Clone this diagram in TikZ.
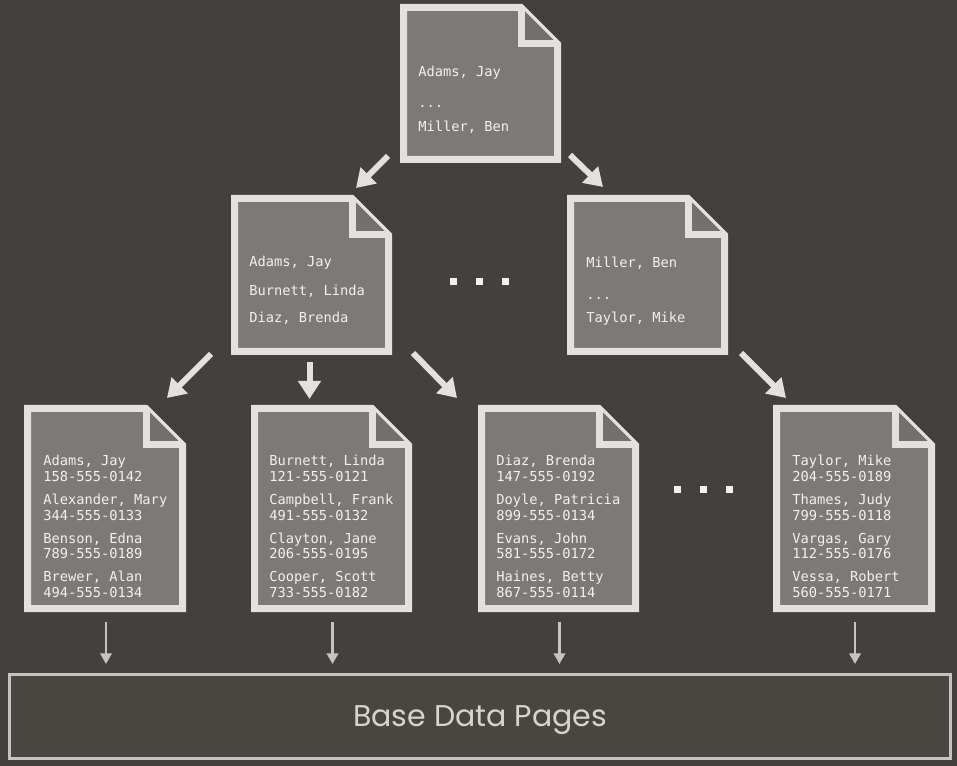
\documentclass[tikz,border=0pt]{standalone}
\usepackage{fontspec}
\setmonofont{DejaVu Sans Mono}
\setsansfont{Poppins}
\usetikzlibrary{arrows.meta,calc,fit}
\definecolor{bgc}{HTML}{43413D}
\definecolor{pagec}{HTML}{7B7A77}
\definecolor{foldc}{HTML}{72716E}
\definecolor{borderc}{HTML}{E2E1DE}
\definecolor{textc}{HTML}{F2F1EE}
\definecolor{boxfillc}{HTML}{48463F}
\definecolor{boxborderc}{HTML}{C5C4C0}
\definecolor{basetextc}{HTML}{D5D4D0}
\tikzset{
  pagebox/.style={inner sep=0pt, outer sep=0pt, draw=none},
  pageline/.style={draw=borderc, fill=pagec, line width=5.25pt, line join=miter},
  foldfill/.style={fill=foldc},
  foldline/.style={draw=borderc, line width=5.25pt, line join=miter},
  entry/.style={anchor=base west, inner sep=0pt, text=textc, font=\ttfamily\fontsize{10.3pt}{12pt}\selectfont},
  bigarrow/.style={draw=borderc, line width=4.5pt, -{Triangle[length=13.5pt,width=16.5pt]}},
  thinarrow/.style={draw=boxborderc, line width=2.2pt, -{Triangle[length=8pt,width=8.5pt]}},
  basebox/.style={draw=boxborderc, fill=boxfillc, line width=2.25pt, minimum width=705.75pt, minimum height=63pt, inner sep=0pt},
  basetext/.style={text=basetextc, font=\sffamily\fontsize{22.5pt}{26pt}\selectfont},
  dotc/.style={fill=textc}
}
\newcommand\docpage[5]{%
  \node[pagebox, fit={(#2,#3) (#4,#5)}] (#1) {};
  \path[pageline] ($(#1.north west)+(3.5,3.5)$) -- ($(#1.north east)+(-40,3.5)$)
     -- ($(#1.north east)+(-3.5,40)$) -- ($(#1.south east)+(-3.5,-3.5)$)
     -- ($(#1.south west)+(3.5,-3.5)$) -- cycle;
  \path[foldfill] ($(#1.north east)+(-40,3.5)$) -- ($(#1.north east)+(-40,40)$)
     -- ($(#1.north east)+(-3.5,40)$) -- cycle;
  \path[foldline] ($(#1.north east)+(-40,3.5)$) -- ($(#1.north east)+(-40,40)$)
     -- ($(#1.north east)+(-3.5,40)$);
}
\newcommand\dotrow[2]{%
  \foreach \dx in {-26,0,26} \fill[dotc] ($(#1+\dx-3.5,#2-3.5)$) rectangle ($(#1+\dx+3.5,#2+3.5)$);
}
\begin{document}
\begin{tikzpicture}[x=0.75pt,y=-0.75pt]
\fill[bgc] (0,0) rectangle (957,766);
\useasboundingbox (0,0) rectangle (957,766);

% pages
\docpage{top}{400}{4}{561}{163}
\docpage{midl}{231}{195}{392}{355}
\docpage{midr}{567}{195}{728}{355}
\docpage{leafa}{24}{405}{186}{612}
\docpage{leafb}{251}{405}{412}{612}
\docpage{leafc}{478}{405}{639}{612}
\docpage{leafd}{773}{405}{935}{612}

% texts
\foreach \ty/\tx [count=\i] in {77/{Adams, Jay},108/{...},132/{Miller, Ben}}
  \node[entry] (top-t\i) at (418,\ty) {\tx};
\foreach \ty/\tx [count=\i] in {267/{Adams, Jay},296/{Burnett, Linda},323/{Diaz, Brenda}}
  \node[entry] (midl-t\i) at (249,\ty) {\tx};
\foreach \ty/\tx [count=\i] in {268/{Miller, Ben},300/{...},323/{Taylor, Mike}}
  \node[entry] (midr-t\i) at (586,\ty) {\tx};
\foreach \ty/\tx [count=\i] in {466/{Adams, Jay},482/{158-555-0142},504/{Alexander, Mary},520/{344-555-0133},543/{Benson, Edna},558/{789-555-0189},581/{Brewer, Alan},597/{494-555-0134}}
  \node[entry] (leafa-t\i) at (43,\ty) {\tx};
\foreach \ty/\tx [count=\i] in {466/{Burnett, Linda},482/{121-555-0121},504/{Campbell, Frank},520/{491-555-0132},543/{Clayton, Jane},558/{206-555-0195},581/{Cooper, Scott},597/{733-555-0182}}
  \node[entry] (leafb-t\i) at (269,\ty) {\tx};
\foreach \ty/\tx [count=\i] in {466/{Diaz, Brenda},482/{147-555-0192},504/{Doyle, Patricia},520/{899-555-0134},543/{Evans, John},558/{581-555-0172},581/{Haines, Betty},597/{867-555-0114}}
  \node[entry] (leafc-t\i) at (496,\ty) {\tx};
\foreach \ty/\tx [count=\i] in {466/{Taylor, Mike},482/{204-555-0189},504/{Thames, Judy},520/{799-555-0118},543/{Vargas, Gary},558/{112-555-0176},581/{Vessa, Robert},597/{560-555-0171}}
  \node[entry] (leafd-t\i) at (792,\ty) {\tx};

% ellipses
\dotrow{479}{282}
\dotrow{703}{490}

% base box
\node[basebox] (base) at (480,716.5) {};
\node[basetext] (basel) at ($(base.center)+(0,4)$) {Base Data Pages};

% tree arrows
\draw[bigarrow] ($(top.south west)+(-12,-7)$) -- ($(midl.north east)+(-36,-7)$);
\draw[bigarrow] ($(top.south east)+(9,-8)$) -- ($(midr.north west)+(36,-8)$);
\draw[bigarrow] ($(midl.south west)+(-20,-1)$) -- ($(leafa.north east)+(-19,-7)$);
\coordinate (a4t) at ($(midl.south)+(-2,7)$);
\draw[bigarrow, shorten >=4.5pt] (a4t) -- (a4t |- leafb.north);
\draw[bigarrow] ($(midl.south east)+(21,-2)$) -- ($(leafc.north west)+(-21,-7)$);
\draw[bigarrow] ($(midr.south east)+(13,-2)$) -- ($(leafd.north west)+(13,-7)$);

% arrows to base
\foreach \lf in {leafa,leafb,leafc,leafd}
  \draw[thinarrow] ($(\lf.south)+(1,10)$) -- ($(\lf.south |- base.north)+(1,-9)$);
\end{tikzpicture}
\end{document}
